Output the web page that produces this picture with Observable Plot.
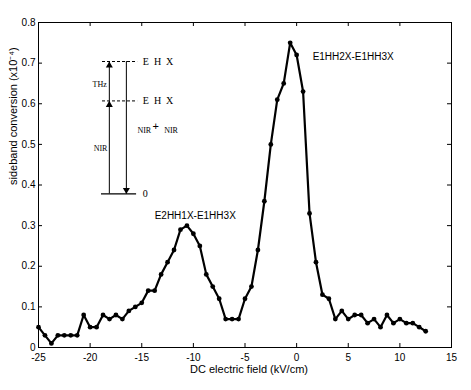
<!DOCTYPE html>
<html>
<head>
<meta charset="utf-8">
<script src="https://cdn.jsdelivr.net/npm/d3@7"></script>
<script src="https://cdn.jsdelivr.net/npm/@observablehq/plot@0.6"></script>
<style>
  html, body { margin: 0; padding: 0; background: #fff; }
</style>
</head>
<body>
<div id="chart"></div>
<script>
// DC electric field (kV/cm)
const field = [-25, -24.375, -23.75, -23.125, -22.5, -21.875, -21.25, -20.625, -20, -19.375,
  -18.75, -18.125, -17.5, -16.875, -16.25, -15.625, -15, -14.375, -13.75, -13.125,
  -12.5, -11.875, -11.25, -10.625, -10, -9.375, -8.75, -8.125, -7.5, -6.875,
  -6.25, -5.625, -5, -4.375, -3.75, -3.125, -2.5, -1.875, -1.25, -0.625,
  0, 0.625, 1.25, 1.875, 2.5, 3.125, 3.75, 4.375, 5, 5.625,
  6.25, 6.875, 7.5, 8.125, 8.75, 9.375, 10, 10.625, 11.25, 11.875, 12.5];
// sideband conversion (x10^-4)
const conversion = [0.05, 0.03, 0.01, 0.03, 0.03, 0.03, 0.03, 0.08, 0.05, 0.05,
  0.08, 0.07, 0.08, 0.07, 0.09, 0.10, 0.11, 0.14, 0.14, 0.18,
  0.21, 0.24, 0.29, 0.30, 0.28, 0.25, 0.18, 0.15, 0.12, 0.07,
  0.07, 0.07, 0.12, 0.15, 0.24, 0.36, 0.50, 0.61, 0.65, 0.75,
  0.72, 0.63, 0.33, 0.21, 0.13, 0.12, 0.07, 0.09, 0.07, 0.08,
  0.08, 0.06, 0.07, 0.05, 0.08, 0.06, 0.07, 0.06, 0.06, 0.05, 0.04];

const xTicks = [-25, -20, -15, -10, -5, 0, 5, 10, 15];
const yTicks = [0, 0.1, 0.2, 0.3, 0.4, 0.5, 0.6, 0.7, 0.8];

// peak annotations
const peakLabels = ["E1HH2X-E1HH3X", "E2HH1X-E1HH3X"];
const peakLabelX = [1.55, -13.75];
const peakLabelY = [0.715, 0.323];

// inset energy-level diagram (in data units)
const levelNames = ["0", "E\u2002H\u2002X", "E\u2002H\u2002X"];
const levelY = [0.378, 0.607, 0.704];
const levelX1 = [-18.9, -18.8, -18.8];
const levelX2 = [-15.5, -15.4, -15.4];
const levelLabelX = -14.9;
const upArrowX = -18.14;
const downArrowX = -16.49;

const data = field.map((x, i) => ({x, y: conversion[i]}));
const peaks = peakLabels.map((t, i) => ({t, x: peakLabelX[i], y: peakLabelY[i]}));
const levels = levelNames.map((t, i) => ({t, y: levelY[i], x1: levelX1[i], x2: levelX2[i], dashed: i > 0}));
const upSegs = [{y1: levelY[0], y2: levelY[1]}, {y1: levelY[1], y2: levelY[2]}];
const downSeg = [{y1: levelY[2], y2: levelY[0]}];
const insetTexts = [
  {t: "THz", x: -19.76, y: 0.648, size: 8, font: "Liberation Serif, Times New Roman, serif"},
  {t: "NIR", x: -19.66, y: 0.491, size: 8, font: "Liberation Serif, Times New Roman, serif"},
  {t: "NIR", x: -15.42, y: 0.534, size: 8, font: "Liberation Serif, Times New Roman, serif"},
  {t: "+", x: -13.96, y: 0.544, size: 11, font: "Liberation Sans, Arial, sans-serif"},
  {t: "NIR", x: -12.83, y: 0.534, size: 8, font: "Liberation Serif, Times New Roman, serif"}
];

const W = 471, H = 390, mL = 38, mR = 20, mT = 22, mB = 43;
const plotH = H - mT - mB, plotW = W - mL - mR;
const serif = "Liberation Serif, Times New Roman, serif";

const chart = Plot.plot({
  width: W, height: H,
  marginLeft: mL, marginRight: mR, marginTop: mT, marginBottom: mB,
  style: {fontFamily: "Liberation Sans, Arial, Helvetica, sans-serif", fontSize: "10px", background: "white", color: "black"},
  x: {domain: [-25, 15]},
  y: {domain: [0, 0.8]},
  marks: [
    Plot.axisX({ticks: xTicks, tickSize: 0, tickPadding: 6, tickFormat: d => String(d), label: null, fontSize: 10}),
    Plot.axisY({ticks: yTicks, tickSize: 0, tickPadding: 3, tickFormat: d => d === 0 ? "0" : d.toFixed(1), label: null, fontSize: 10}),
    Plot.tickX(xTicks, {x: d => d, insetTop: plotH - 4, stroke: "black"}),
    Plot.tickX(xTicks, {x: d => d, insetBottom: plotH - 4, stroke: "black"}),
    Plot.tickY(yTicks, {y: d => d, insetRight: plotW - 4, stroke: "black"}),
    Plot.tickY(yTicks, {y: d => d, insetLeft: plotW - 4, stroke: "black"}),
    Plot.frame({stroke: "black", strokeWidth: 1}),
    // inset diagram
    Plot.ruleY(levels.filter(d => !d.dashed), {y: "y", x1: "x1", x2: "x2", stroke: "black", strokeWidth: 1.2}),
    Plot.ruleY(levels.filter(d => d.dashed), {y: "y", x1: "x1", x2: "x2", stroke: "black", strokeWidth: 1, strokeDasharray: "3,2"}),
    Plot.ruleX(upSegs, {x: upArrowX, y1: "y1", y2: "y2", stroke: "black", strokeWidth: 1}),
    Plot.ruleX(downSeg, {x: downArrowX, y1: "y1", y2: "y2", stroke: "black", strokeWidth: 1}),
    Plot.dot(upSegs, {x: upArrowX, y: "y2", symbol: "triangle", r: 2.6, fill: "black", dy: 4}),
    Plot.dot(downSeg, {x: downArrowX, y: "y2", symbol: "triangle", r: 2.6, fill: "black", rotate: 180, dy: -4}),
    Plot.text(levels, {x: levelLabelX, y: "y", text: "t", textAnchor: "start", fontFamily: serif, fontSize: 10}),
    ...insetTexts.map(d => Plot.text([d], {x: "x", y: "y", text: "t", textAnchor: "start", fontFamily: d.font, fontSize: d.size})),
    // data
    Plot.line(data, {x: "x", y: "y", stroke: "black", strokeWidth: 2.2}),
    Plot.dot(data, {x: "x", y: "y", r: 2.4, fill: "black"}),
    Plot.text(peaks, {x: "x", y: "y", text: "t", textAnchor: "start", fontSize: 10}),
    // axis titles
    Plot.text(["sideband conversion (x10\u207B\u2074)"], {frameAnchor: "left", text: d => d, rotate: -90, dx: -25, fontSize: 11}),
    Plot.text(["DC electric field (kV/cm)"], {frameAnchor: "bottom", text: d => d, dy: 25, dx: 4, fontSize: 11})
  ]
});
document.getElementById("chart").appendChild(chart);
</script>
</body>
</html>
